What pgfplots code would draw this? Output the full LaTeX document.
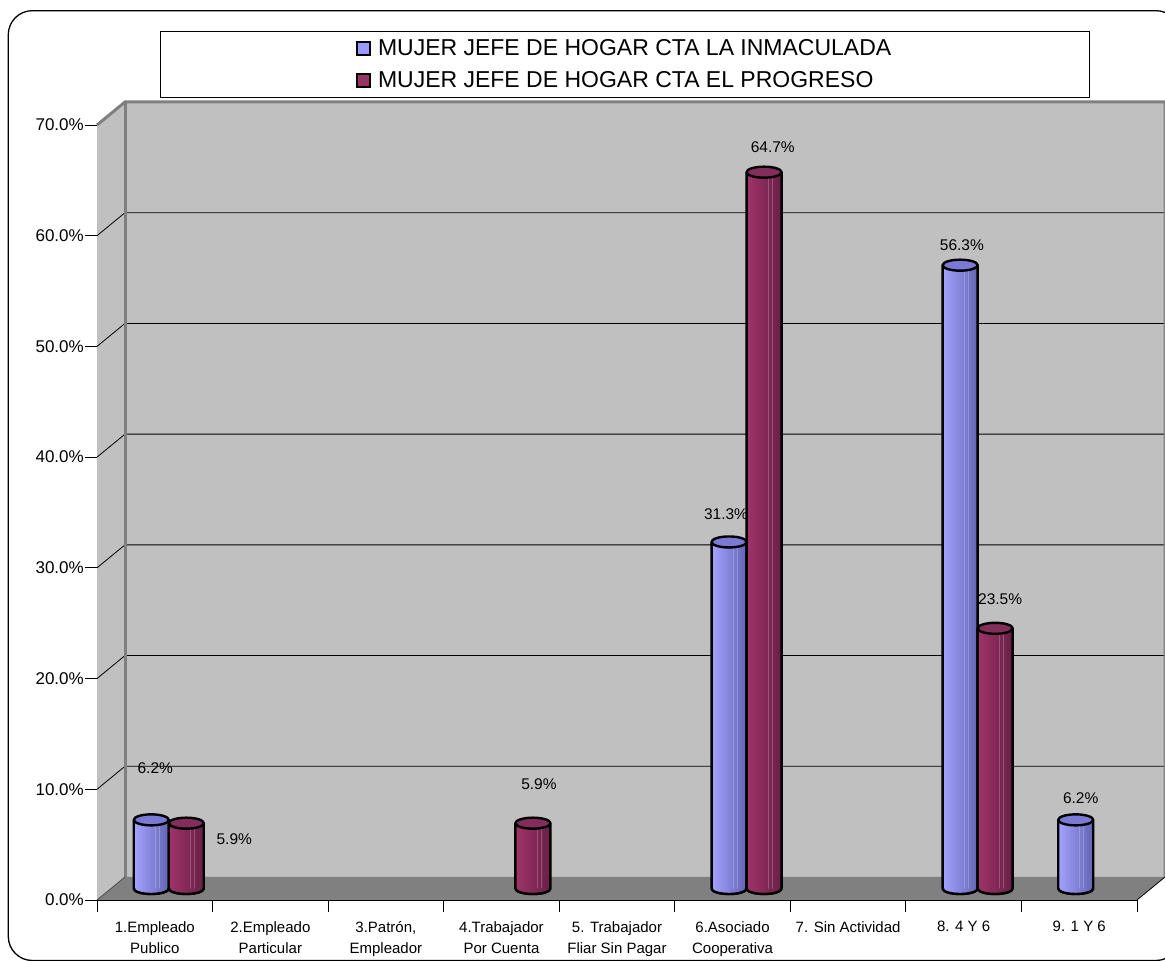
\documentclass[border=0pt]{standalone}
\usepackage{fontspec}
\setmainfont{Liberation Sans}
\usepackage{pgfplots}
\pgfplotsset{compat=1.18}

\definecolor{wall}{HTML}{C0C0C0}
\definecolor{floorc}{HTML}{808080}
\definecolor{blueC}{HTML}{9999FF}
\definecolor{blueL}{HTML}{A3A3FF}
\definecolor{blueD}{HTML}{6464B4}
\definecolor{blueT}{HTML}{7A7AD6}
\definecolor{redC}{HTML}{993366}
\definecolor{redL}{HTML}{A0336A}
\definecolor{redD}{HTML}{682046}
\definecolor{redT}{HTML}{822D5A}

\newcommand\tickfont{\fontsize{17}{20}\selectfont}
\newcommand\catfont{\fontsize{15}{21}\selectfont}
\newcommand\datafont{\fontsize{15.5}{18}\selectfont}
\newcommand\legfont{\fontsize{23}{27}\selectfont}

% cylinder drawn at each point, height taken from the value (775pt = 70 units)
% #2 = horizontal offset of the cylinder axis from the point
\newcommand\cylmark[5]{%
  \pgfdeclareplotmark{#1}{%
    \pgfmathsetmacro\cylb{11.5-\cylv*11.07143}%
    \begin{scope}[x=1pt,y=1pt,line width=2.4pt,line join=round]
      \path[left color=#3,right color=#4,draw=black]
        ({#2-17.5},11.5) -- ({#2-17.5},\cylb)
        arc[start angle=180,end angle=360,x radius=17.5,y radius=5.5] -- ({#2+17.5},11.5) -- cycle;
      \draw[white, opacity=0.22, line width=0.7pt] ({#2+4},\cylb-5) -- ({#2+4},11.5)
        ({#2+8},\cylb-4.5) -- ({#2+8},11.5);
      \path[left color=#3,right color=#4,draw=black] ({#2-17.5},\cylb) arc[start angle=180,end angle=360,x radius=17.5,y radius=5.5];
      \path[fill=#5,draw=black] (#2,11.5) ellipse[x radius=17.5,y radius=5.5];
    \end{scope}}}
\cylmark{cylA}{-3.5}{blueL}{blueD}{blueT}
\cylmark{cylB}{31.5}{redL}{redD}{redT}

\pgfplotsset{cyl/.style={scatter, only marks, forget plot,
    visualization depends on={value \thisrow{v}\as\cylv},
    visualization depends on={value \thisrow{lx}\as\labx},
    visualization depends on={value \thisrow{ly}\as\laby},
    nodes near coords={\cylv\%},
    every node near coord/.append style={anchor=center, xshift=\labx pt, yshift=\laby pt,
        font=\datafont, text=black, inner sep=0pt}}}

\begin{document}
\begin{tikzpicture}
\path[use as bounding box] (0,0) rectangle (1165pt,961pt);
\draw[line width=1.3pt, rounded corners=24pt] (8.3pt,0.5pt) rectangle (1180pt,950.3pt);
\begin{axis}[
    at={(97pt,61pt)}, anchor=south west,
    scale only axis,
    width=1040pt, height=775pt,
    xmin=-0.5, xmax=8.5, ymin=0, ymax=70,
    clip=false,
    axis x line*=bottom, axis y line*=left,
    axis line style={-, black, line width=0.8pt},
    tick align=outside,
    major tick length=12pt,
    minor tick length=12pt,
    xtick={0,...,8},
    xticklabels={{1.Empleado\\Publico},{2.Empleado\\Particular},{3.Patrón,\\Empleador},
        {4.Trabajador\\Por Cuenta},{5. Trabajador\\Fliar Sin Pagar},{6.Asociado\\Cooperativa},
        {7. Sin Actividad},{8. 4 Y 6},{9. 1 Y 6}},
    every major x tick/.append style={draw=none},
    minor xtick={-0.5,0.5,...,8.5},
    every minor x tick/.append style={black, line width=0.8pt},
    xticklabel style={font=\catfont, align=center, inner sep=0pt, yshift=-9pt},
    ytick={0,10,...,70},
    yticklabels={0.0\%,10.0\%,20.0\%,30.0\%,40.0\%,50.0\%,60.0\%,70.0\%},
    ytick style={black, line width=0.8pt},
    yticklabel style={font=\tickfont, inner sep=0pt, xshift=-1pt},
    legend style={at={(axis description cs:0.0606,1.1213)}, anchor=north west,
        draw=black, line width=0.8pt, fill=white, font=\legfont,
        inner xsep=196pt, inner ysep=6.5pt, row sep=10pt, column sep=5pt},
    legend cell align=left,
]
% walls and floor
\fill[wall] ([shift={(28pt,23pt)}]axis cs:-0.5,0) rectangle ([shift={(28pt,23pt)}]axis cs:8.5,70);
\fill[wall] (axis cs:-0.5,0) -- (axis cs:-0.5,70) -- ([shift={(28pt,23pt)}]axis cs:-0.5,70)
    -- ([shift={(28pt,23pt)}]axis cs:-0.5,0) -- cycle;
\fill[floorc] (axis cs:-0.5,0) -- (axis cs:8.5,0) -- ([shift={(28pt,23pt)}]axis cs:8.5,0)
    -- ([shift={(28pt,23pt)}]axis cs:-0.5,0) -- cycle;
\pgfplotsinvokeforeach{10,20,30,40,50,60}{
  \draw[black, line width=0.8pt] (axis cs:-0.5,#1) -- ([shift={(28pt,23pt)}]axis cs:-0.5,#1)
      -- ([shift={(28pt,23pt)}]axis cs:8.5,#1);
}
\draw[floorc, line width=3pt] (axis cs:-0.5,70) -- ([shift={(28pt,23pt)}]axis cs:-0.5,70)
    -- ([shift={(28pt,23pt)}]axis cs:8.5,70) -- ([shift={(28pt,23pt)}]axis cs:8.5,0);
\draw[floorc, line width=3pt] ([shift={(28pt,23pt)}]axis cs:-0.5,70) -- ([shift={(28pt,23pt)}]axis cs:-0.5,0);
\draw[black!70, line width=0.8pt] (axis cs:-0.5,0) -- ([shift={(28pt,23pt)}]axis cs:-0.5,0);
\draw[black, line width=0.8pt] (axis cs:8.5,0) -- ([shift={(28pt,23pt)}]axis cs:8.5,0);

% x = category, v = percent, lx/ly = label offset (pt)
\addplot[cyl, mark=cylA] table[x=x, y=v] {
x v lx ly
0 6.2 0.5 63.4
5 31.3 -6.5 39.5
7 56.3 -1.8 31.6
8 6.2 1.5 33.4
};
\addplot[cyl, mark=cylB] table[x=x, y=v] {
x v lx ly
0 5.9 79.5 -4.3
3 5.9 37.5 50.7
5 64.7 40.2 36.8
7 23.5 36.5 41.0
};

\addlegendimage{legend image code/.code={\draw[black, line width=1.6pt, fill=blueC] (0pt,-6.5pt) rectangle (13pt,6.5pt);}}
\addlegendentry{MUJER JEFE DE HOGAR CTA LA INMACULADA}
\addlegendimage{legend image code/.code={\draw[black, line width=1.6pt, fill=redC] (0pt,-6.5pt) rectangle (13pt,6.5pt);}}
\addlegendentry{MUJER JEFE DE HOGAR CTA EL PROGRESO}
\end{axis}
\end{tikzpicture}
\end{document}
